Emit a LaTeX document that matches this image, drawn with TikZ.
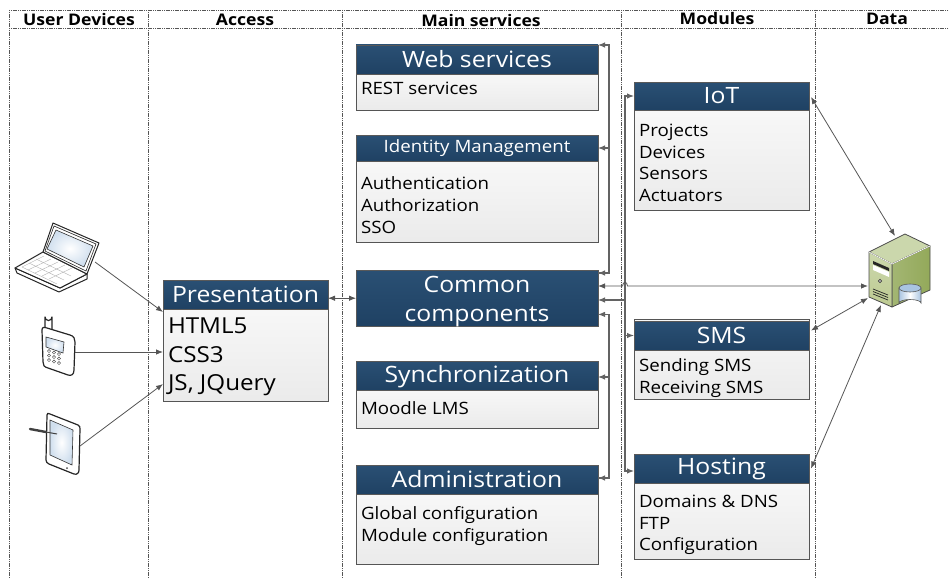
\documentclass[tikz,border=0pt]{standalone}
\usepackage{fontspec}
\setmainfont[FakeStretch=1.1]{Open Sans}
\usetikzlibrary{arrows.meta}
\usetikzlibrary{calc}
\usetikzlibrary{positioning}
\usetikzlibrary{shadows}

\definecolor{headblue}{HTML}{2A5074}
\definecolor{headdark}{HTML}{1F4163}
\definecolor{linegray}{HTML}{555555}
\definecolor{busgray}{HTML}{636363}
\definecolor{servertop}{HTML}{CBD7AC}
\definecolor{serverfront}{HTML}{BECB92}
\definecolor{serverside}{HTML}{93A95A}
\definecolor{dbblue}{HTML}{A9C4E0}

\begin{document}
\begin{tikzpicture}[
	x=1pt, y=-1pt,
  > = {Latex[length=7pt,width=5.5pt]},
  head/.style = {draw=gray!70!black,line width=0.5pt,top color=headblue,bottom color=headdark,text=white,inner sep=0pt,outer sep=0pt,align=center,font=\fontsize{22.5}{29}\selectfont},
  main/.style = {head,minimum width=242pt},
  module/.style = {head,minimum width=175pt},
  body/.style = {draw=linegray,line width=0.9pt,top color=white!97!black,bottom color=white!92!black,inner sep=0pt,outer sep=0pt,drop shadow={shadow xshift=1pt,shadow yshift=-1pt,opacity=0.2}},
  bodytext/.style = {inner sep=0pt,outer sep=0pt,align=left,text=black,font=\fontsize{17}{21.6}\selectfont},
  coltitle/.style = {inner sep=0pt,font=\fontsize{16}{18}\selectfont\bfseries},
  lane/.style = {draw=linegray,line width=0.8pt,dash pattern=on 1.2pt off 0.6pt},
  wire/.style = {draw=linegray,line width=0.8pt},
  bus/.style = {draw=busgray,line width=1.1pt},
  icon/.style = {inner sep=0pt,outer sep=0pt},
  device/.style = {draw=black!85,line width=1pt,line join=round,fill=white},
  keys/.style = {draw=black!70,line width=0.5pt},
  glass/.style = {draw=black!80,line width=0.6pt,inner color=white,outer color=dbblue!55!white}
  ]
	\useasboundingbox (0,0) rectangle (949,578);

	% lanes
	\draw[lane] (9,10) -- (949,10);
	\draw[lane] (9,28) -- (949,28);
	\draw[lane] (9,10) -- (9,578);
	\draw[lane] (148,10) -- (148,578);
	\draw[lane] (342,10) -- (342,578);
	\draw[lane] (621,10) -- (621,578);
	\draw[lane] (815,10) -- (815,578);

	\node[coltitle] (userdevices) at (79,19.5) {User Devices};
	\node[coltitle] (access) at (245,19.5) {Access};
	\node[coltitle] (mainservices) at (481,20.5) {Main services};
	\node[coltitle] (modules) at (717,18.5) {Modules};
	\node[coltitle] (data) at (887,18.5) {Data};

	% presentation
	\node[body,minimum width=165pt,minimum height=92pt,anchor=north west] (presbody) at (163,309) {};
	\node[head,minimum width=165pt,minimum height=29pt,anchor=north west] (pres) at (163,280) {Presentation};
	\node[bodytext,font=\fontsize{22}{28.5}\selectfont,below right=9pt and 5pt of pres.south west] (prestext) {HTML5\\CSS3\\JS, JQuery};

	% main services
	\node[body,minimum width=242pt,minimum height=36pt,anchor=north west] (webbody) at (356,74) {};
	\node[main,minimum height=29pt,anchor=north west] (web) at (356,45) {Web services};
	\node[bodytext,below right=8pt and 5pt of web.south west] (webtext) {REST services};

	\node[body,minimum width=242pt,minimum height=81pt,anchor=north west] (idmbody) at (356,161) {};
	\node[main,minimum height=26pt,anchor=north west,font=\fontsize{17}{20}\selectfont] (idm) at (356,135) {Identity Management};
	\node[bodytext,below right=16pt and 5pt of idm.south west] (idmtext) {Authentication\\Authorization\\SSO};

	\node[main,minimum height=55pt,anchor=north west] (common) at (356,270) {\rule{0pt}{22pt}Common\\components};

	\node[body,minimum width=242pt,minimum height=38pt,anchor=north west] (syncbody) at (356,390) {};
	\node[main,minimum height=29pt,anchor=north west,text height=19pt] (sync) at (356,361) {Synchronization};
	\node[bodytext,below right=12pt and 5pt of sync.south west] (synctext) {Moodle LMS};

	\node[body,minimum width=242pt,minimum height=70pt,anchor=north west] (adminbody) at (356,494) {};
	\node[main,minimum height=29pt,anchor=north west] (admin) at (356,465) {Administration};
	\node[bodytext,below right=12.5pt and 5pt of admin.south west] (admintext) {Global configuration\\Module configuration};

	% modules
	\node[body,minimum width=175pt,minimum height=100pt,anchor=north west] (iotbody) at (634,110) {};
	\node[module,minimum height=28pt,anchor=north west] (iot) at (634,82) {IoT};
	\node[bodytext,below right=14pt and 5pt of iot.south west] (iottext) {Projects\\Devices\\Sensors\\Actuators};

	\node[body,minimum width=175pt,minimum height=80pt,anchor=north west] (smsbody) at (634,319) {};
	\node[module,minimum height=29pt,anchor=north west] (sms) at (634,321) {SMS};
	\node[bodytext,below right=9pt and 5pt of sms.south west] (smstext) {Sending SMS\\Receiving SMS};

	\node[body,minimum width=175pt,minimum height=76pt,anchor=north west] (hostingbody) at (634,483) {};
	\node[module,minimum height=29pt,anchor=north west] (hosting) at (634,454) {Hosting};
	\node[bodytext,below right=12pt and 5pt of hosting.south west] (hostingtext) {Domains \& DNS\\FTP\\Configuration};

	% laptop
	\node[icon,minimum width=85pt,minimum height=70pt] (laptop) at (57,257) {};
	\draw[device] (15,268) -- (17,273) -- (59,292) -- (87,279) -- (87,274) -- (60,288) -- cycle;
	\draw[device] (15,268) -- (43,252) -- (87,274) -- (60,288) -- cycle;
	\draw[device] (43,252) -- (53,223) -- (99,243) -- (87,274) -- cycle;
	\draw[black!85,line width=0.6pt] (45,251) -- (54,226) -- (96,244) -- (86,271) -- cycle;
	\draw[glass] (47,249) -- (56,230) -- (93,246) -- (84,267) -- cycle;
	\draw[black!30,line width=0.4pt] (22,267) -- (44,256) (28,270) -- (51,259) (35,273) -- (58,262) (42,276) -- (65,265) (49,279) -- (72,268);
	\draw[black!30,line width=0.4pt] (22,267) -- (57,284) (29,263) -- (64,280) (36,259) -- (71,276);
	\coordinate (laptopout) at (95,262);

	% phone
	\node[icon,minimum width=36pt,minimum height=62pt] (phone) at (57,345) {};
	\draw[device,line width=1.2pt] (45,330) -- (45,317) arc[start angle=180,end angle=0,radius=3.5] -- (52,332);
	\draw[device,line width=1.2pt] (42,330) .. controls (42,327) and (44,327) .. (47,328) -- (70,335) .. controls (74,336) and (75,339) .. (75,342) -- (74,370) .. controls (74,375) and (71,376) .. (68,375) -- (48,368) .. controls (44,367) and (43,365) .. (43,362) -- cycle;
	\draw[glass] (46,337) -- (64,342) -- (63,353) -- (46,347) -- cycle;
	\draw[keys] (49,351) circle (1.6) (54,352.5) circle (1.6) (59,354) circle (1.6);
	\draw[keys] (49,355.5) circle (1.6) (54,357) circle (1.6) (59,358.5) circle (1.6);
	\draw[keys] (49,360) circle (1.6) (54,361.5) circle (1.6) (59,363) circle (1.6);
	\coordinate (phoneout) at (75,352);

	% tablet
	\node[icon,minimum width=52pt,minimum height=62pt] (tablet) at (55,443) {};
	\draw[device,line width=1.2pt] (47,415) .. controls (47,413) and (48,413) .. (50,414) -- (78,425) .. controls (80,426) and (80,427) .. (80,429) -- (79,470) .. controls (79,473) and (77,475) .. (74,474) -- (49,464) .. controls (47,463) and (46,462) .. (46,460) -- cycle;
	\draw[glass] (50,420) -- (73,430) -- (72,465) -- (50,455) -- cycle;
	\fill[black!70] (67,468) circle (1);
	\draw[black!75,line width=2.4pt,line cap=round] (30,429) -- (46,432);
	\draw[black!75,line width=1pt] (46,432) -- (57,434);
	\coordinate (tabletout) at (80,446);

	% server
	\node[icon,minimum width=62pt,minimum height=74pt] (server) at (899,270) {};
	\draw[black!70,line width=0.8pt,line join=round,fill=servertop] (869,252) -- (905,234) -- (930,246) -- (892,264) -- cycle;
	\draw[black!70,line width=0.8pt,line join=round,left color=serverside!85!white,right color=serverside] (892,264) -- (930,246) -- (930,290) -- (892,307) -- cycle;
	\draw[black!70,line width=0.8pt,line join=round,top color=servertop,bottom color=serverfront] (869,252) -- (892,264) -- (892,307) -- (869,297) -- cycle;
	\draw[white,line width=0.7pt] (869,252) -- (892,264) -- (930,246);
	\fill[black!85] (873,261) -- (889,268) -- (889,271) -- (873,264) -- cycle;
	\fill[white] (873,265) -- (889,272) -- (889,277) -- (873,270) -- cycle;
	\draw[black!80,fill=white,line width=0.7pt] (880,281) circle (1.7);
	\draw[black!85,line width=0.7pt] (873,289) -- (888,295) (873,291.5) -- (888,297.5) (873,294) -- (888,300);
	\shade[left color=dbblue,right color=dbblue,middle color=white,draw=black!65,line width=0.6pt] (899,288) -- (899,303) arc[start angle=180,end angle=360,x radius=11,y radius=3.5] -- (921,288) -- cycle;
	\draw[draw=black!65,fill=dbblue,line width=0.6pt] (910,288) ellipse (11 and 4);

	% connectors to presentation
	\coordinate (presa) at (163,312);
	\coordinate (presb) at (163,352);
	\coordinate (presc) at (163,384);
	\draw[wire,->] (laptopout) -- (presa);
	\draw[wire,->] (phoneout) -- (presb);
	\draw[wire,->] (tabletout) -- (presc);
	\draw[wire,<->] (common.west) -- (common.west -| pres.east);

	% buses
	\coordinate (busa) at (609,45);
	\coordinate (busb) at (609,478);
	\coordinate (busc) at (625,300);
	\draw[bus,<-] (web.north east) -- (busa) |- ($ (common.north east) + (0,3) $);
	\draw[bus,<-] ($ (common.north east) + (0,3) $) -- +(11,0);
	\draw[bus,<-] (idm.east) -- (idm.east -| busa);
	\draw[bus,<-] ($ (common.south east) + (0,-12) $) -| (busb) -- (admin.east |- busb);
	\draw[bus,->] (busb) -- (admin.east |- busb);
	\draw[bus,<-] ($ (sync.east) + (0,1.5) $) -- ($ (sync.east) + (11,1.5) $);
	\draw[bus,<-] ($ (common.north east) + (0,30) $) -| (busc);
	\draw[bus,->] (busc) |- (iot.west);
	\draw[bus,->] (busc) |- ($ (hosting.west) + (0,2.5) $);
	\draw[bus,->] (sms.west -| busc) -- (sms.west);

	% connectors to data
	\coordinate (dataa) at (868,286);
	\draw[wire,<->] ($ (common.north east) + (0,16) $) -- (622.5,286) .. controls (623,281) and (627,281) .. (627.5,286) -- (dataa);
	\coordinate (datab) at (895,236);
	\coordinate (datac) at (868,298);
	\coordinate (datad) at (881,305);
	\draw[wire,<->] ($ (iot.east) + (2,1) $) -- (datab);
	\draw[wire,<->] ($ (sms.east) + (2,-5) $) -- (datac);
	\draw[wire,<->] ($ (hosting.east) + (2,0) $) -- (datad);
\end{tikzpicture}
\end{document}
